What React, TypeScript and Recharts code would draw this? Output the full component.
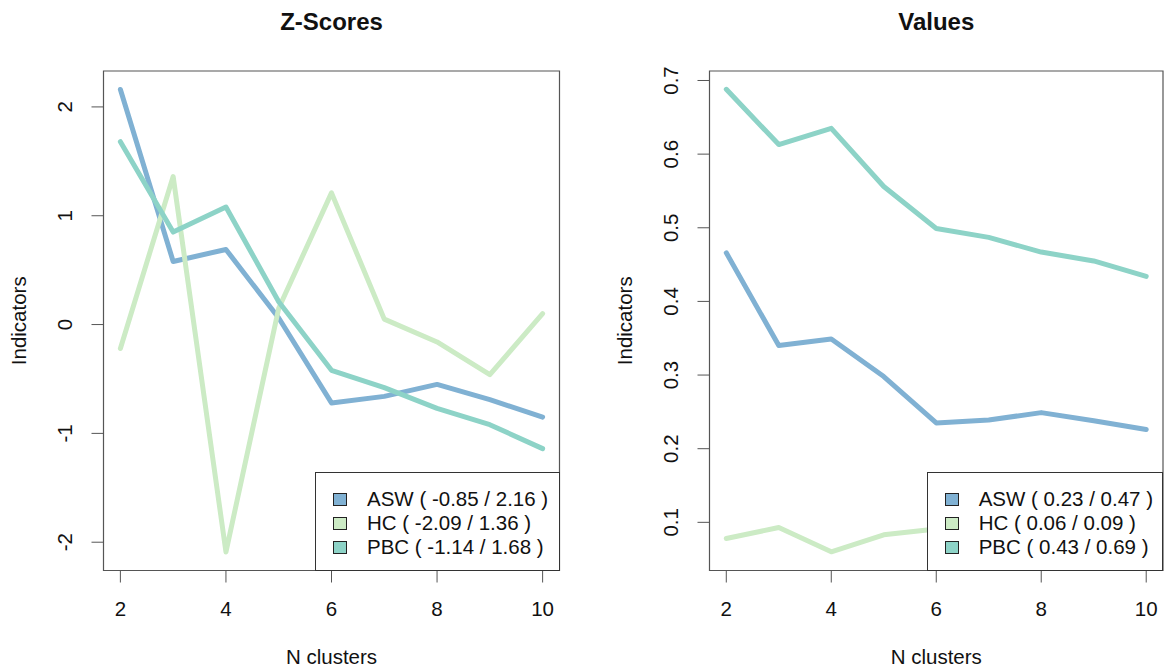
import React from 'react';
import { LineChart, Line, XAxis, YAxis, Legend, ReferenceArea } from 'recharts';

// cluster-quality indicators
const nClusters = [2, 3, 4, 5, 6, 7, 8, 9, 10];

const zAsw = [2.16, 0.58, 0.69, 0.06, -0.72, -0.66, -0.55, -0.69, -0.85];
const zHc = [-0.22, 1.36, -2.09, 0.15, 1.21, 0.05, -0.16, -0.46, 0.1];
const zPbc = [1.68, 0.85, 1.08, 0.21, -0.42, -0.58, -0.77, -0.92, -1.14];

const vAsw = [0.466, 0.34, 0.349, 0.298, 0.235, 0.239, 0.249, 0.238, 0.226];
const vHc = [0.078, 0.093, 0.06, 0.083, 0.091, 0.081, 0.079, 0.076, 0.081];
const vPbc = [0.688, 0.613, 0.635, 0.556, 0.499, 0.487, 0.467, 0.455, 0.434];

const xTicks = [2, 4, 6, 8, 10];
const zTicks = [-2, -1, 0, 1, 2];
const vTicks = [0.1, 0.2, 0.3, 0.4, 0.5, 0.6, 0.7];

const seriesKeys = ['asw', 'hc', 'pbc'];
const seriesNames = ['ASW', 'HC', 'PBC'];
const seriesColors = ['#80B1D3', '#CCEBC5', '#8DD3C7'];

const FONT = '"Liberation Sans", Arial, Helvetica, sans-serif';
const FS = 20.5;
const INK = '#111';
const BOX = '#555';

function rows(a: number[], b: number[], c: number[]) {
  return nClusters.map((k, i) => ({ k, asw: a[i], hc: b[i], pbc: c[i] }));
}

function rangeLabel(name: string, vals: number[]) {
  const lo = Math.min(...vals).toFixed(2);
  const hi = Math.max(...vals).toFixed(2);
  return `${name} ( ${lo} / ${hi} )`;
}

function XTick({ x, y, payload }: any) {
  return (
    <text x={x} y={y + 33.5} textAnchor="middle" fontSize={FS} fill={INK} fontFamily={FONT}>
      {payload.value}
    </text>
  );
}

function YTick({ x, y, payload, fmt }: any) {
  const tx = x - 19;
  return (
    <text x={tx} y={y} transform={`rotate(-90 ${tx} ${y})`} textAnchor="middle" fontSize={FS} fill={INK} fontFamily={FONT}>
      {fmt(payload.value)}
    </text>
  );
}

function LegendBox({ payload }: any) {
  return (
    <div style={{ boxSizing: 'border-box', width: '100%', height: '100%', background: '#fff', border: '1px solid #333', paddingTop: 14 }}>
      {(payload || []).map((p: any) => (
        <div key={p.value} style={{ display: 'flex', alignItems: 'center', height: 24, fontFamily: FONT, fontSize: FS, color: INK, lineHeight: '24px', whiteSpace: 'nowrap' }}>
          <span style={{ display: 'inline-block', boxSizing: 'border-box', width: 14, height: 13, marginLeft: 17, marginRight: 20, background: p.color, border: '1px solid #222' }} />
          <span>{p.value}</span>
        </div>
      ))}
    </div>
  );
}

interface PanelProps {
  title: string;
  data: any[];
  series: number[][];
  domain: [number, number];
  yTicks: number[];
  fmt: (v: number) => string;
  left: number;
  width: number;
  plotLeft: number;
  plotRight: number;
  legendLeft: number;
  legendWidth: number;
}

const H = 671;
const PLOT_TOP = 71;
const PLOT_BOTTOM = 570.5;
const Y_AXIS_W = 60;
const X_AXIS_H = 60;

function Panel({ title, data, series, domain, yTicks, fmt, left, width, plotLeft, plotRight, legendLeft, legendWidth }: PanelProps) {
  const plotW = plotRight - plotLeft;
  const midY = (PLOT_TOP + PLOT_BOTTOM) / 2;
  return (
    <div style={{ position: 'absolute', left, top: 0, width, height: H }}>
      <div style={{ position: 'absolute', left: plotLeft, width: plotW, top: 10, textAlign: 'center', fontFamily: FONT, fontSize: 24, fontWeight: 'bold', lineHeight: '24px', color: INK }}>
        {title}
      </div>
      <LineChart
        width={width}
        height={H}
        data={data}
        margin={{ top: PLOT_TOP, right: width - plotRight, bottom: H - PLOT_BOTTOM - X_AXIS_H, left: plotLeft - Y_AXIS_W }}
      >
        <XAxis
          dataKey="k"
          type="number"
          domain={[1.68, 10.32]}
          ticks={xTicks}
          allowDataOverflow
          axisLine={false}
          tickLine={{ stroke: BOX }}
          tickSize={12}
          tickMargin={0}
          height={X_AXIS_H}
          tick={<XTick />}
          interval={0}
        />
        <YAxis
          type="number"
          domain={domain}
          ticks={yTicks}
          allowDataOverflow
          axisLine={false}
          tickLine={{ stroke: BOX }}
          tickSize={12}
          tickMargin={0}
          width={Y_AXIS_W}
          tick={<YTick fmt={fmt} />}
          interval={0}
        />
        <ReferenceArea x1={1.68} x2={10.32} y1={domain[0]} y2={domain[1]} fill="none" stroke={BOX} strokeWidth={1.2} fillOpacity={0} />
        {seriesKeys.map((key, i) => (
          <Line
            key={key}
            type="linear"
            dataKey={key}
            name={rangeLabel(seriesNames[i], series[i])}
            stroke={seriesColors[i]}
            strokeWidth={5}
            strokeLinejoin="round"
            strokeLinecap="round"
            dot={false}
            activeDot={false}
            isAnimationActive={false}
          />
        ))}
        <Legend
          layout="horizontal"
          verticalAlign="middle"
          align="center"
          content={<LegendBox />}
          wrapperStyle={{ left: legendLeft, top: 472, width: legendWidth, height: 99 }}
        />
      </LineChart>
      <svg style={{ position: 'absolute', left: 0, top: 0, pointerEvents: 'none' }} width={width} height={H}>
        <text x={(plotLeft + plotRight) / 2} y={664} textAnchor="middle" fontSize={FS} fill={INK} fontFamily={FONT}>
          N clusters
        </text>
        <text
          x={plotLeft - 78}
          y={midY}
          transform={`rotate(-90 ${plotLeft - 78} ${midY})`}
          textAnchor="middle"
          fontSize={FS}
          fill={INK}
          fontFamily={FONT}
        >
          Indicators
        </text>
      </svg>
    </div>
  );
}

export default function App() {
  const zData = rows(zAsw, zHc, zPbc);
  const vData = rows(vAsw, vHc, vPbc);
  return (
    <div style={{ position: 'absolute', left: 0, top: 0, width: 1164, height: 671, background: '#fff', overflow: 'hidden' }}>
      <Panel
        title="Z-Scores"
        data={zData}
        series={[zAsw, zHc, zPbc]}
        domain={[-2.26, 2.33]}
        yTicks={zTicks}
        fmt={(v) => String(v)}
        left={0}
        width={580}
        plotLeft={103.5}
        plotRight={559.5}
        legendLeft={315}
        legendWidth={244.5}
      />
      <Panel
        title="Values"
        data={vData}
        series={[vAsw, vHc, vPbc]}
        domain={[0.0346, 0.7129]}
        yTicks={vTicks}
        fmt={(v) => v.toFixed(1)}
        left={580}
        width={584}
        plotLeft={129.5}
        plotRight={583}
        legendLeft={346.7}
        legendWidth={236.3}
      />
    </div>
  );
}
